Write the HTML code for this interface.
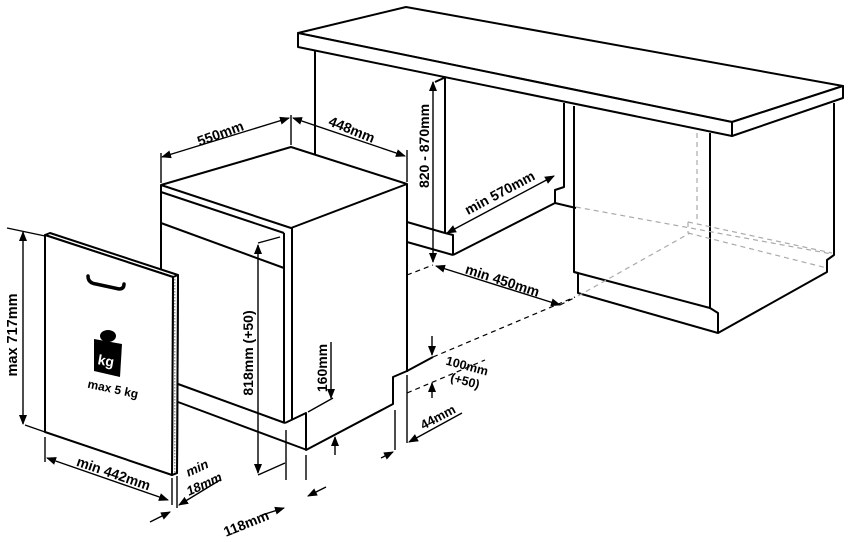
<!DOCTYPE html>
<html><head><meta charset="utf-8"><style>
html,body{margin:0;padding:0;background:#fff;}
svg{display:block;}
text{font-family:"Liberation Sans",Arial,sans-serif;font-weight:bold;fill:#000;}
</style></head><body>
<svg width="850" height="542" viewBox="0 0 850 542" xmlns="http://www.w3.org/2000/svg">
<defs>
<marker id="a" viewBox="0 0 10 10" refX="9" refY="5" markerWidth="10" markerHeight="10" orient="auto-start-reverse" markerUnits="userSpaceOnUse"><path d="M0,1 L10,5 L0,9 z" fill="#000"/></marker>
<pattern id="dots" width="3" height="3" patternUnits="userSpaceOnUse"><rect width="3" height="3" fill="#fff"/><rect width="1.5" height="1.5" fill="#999"/></pattern>
</defs>
<g fill="none" stroke="#000" stroke-width="2" stroke-linejoin="round">
<polygon points="298,33 406,7 843,86 732,122" fill="#fff"/>
<polygon points="298,33 732,122 732,136 298,47" fill="#fff"/>
<polygon points="732,122 843,86 843,98 732,136" fill="#fff"/>
<line x1="315" y1="50" x2="315" y2="155"/>
<polyline points="407,222 445,233 453,235 453,255"/>
<line x1="407" y1="242" x2="453" y2="255"/>
<line x1="445" y1="78" x2="445" y2="233"/>
<line x1="435" y1="82" x2="446" y2="77"/>
<polyline points="453,255 555,203 555,190 564,187 564,103"/>
<line x1="555" y1="203" x2="576" y2="208"/>
<polyline points="574,106 574,272 578,273 578,293 718,333 718,313 710,308 710,133"/>
<line x1="574" y1="272" x2="710" y2="308"/>
<polyline points="718,333 827,272 827,260 834,255 834,103"/>
</g>
<g fill="none" stroke="#aaa" stroke-width="1.2" stroke-dasharray="5,4">
<line x1="576" y1="207" x2="832" y2="254"/>
<line x1="697" y1="133" x2="697" y2="222"/>
<line x1="688" y1="222" x2="832" y2="253"/>
<line x1="688" y1="222" x2="688" y2="233"/>
<line x1="688" y1="233" x2="827" y2="268"/>
<line x1="578" y1="296" x2="690" y2="233"/>
</g>
<g fill="none" stroke="#000" stroke-width="1.2" stroke-dasharray="5,4">
<line x1="407" y1="275" x2="433" y2="265"/>
<line x1="560" y1="305" x2="576" y2="297"/>
<line x1="433" y1="357" x2="575" y2="297"/>
<line x1="407" y1="393" x2="485" y2="360"/>
</g>
<g fill="none" stroke="#000" stroke-width="2" stroke-linejoin="round">
<polygon points="161,185 291,147 407,184 291,228" fill="#fff"/>
<line x1="161" y1="192" x2="284" y2="233"/>
<line x1="161" y1="223" x2="284" y2="268"/>
<line x1="161" y1="185" x2="161" y2="383"/>
<line x1="284" y1="233" x2="284" y2="423"/>
<line x1="292" y1="228" x2="292" y2="420"/>
<line x1="407" y1="184" x2="407" y2="372"/>
<line x1="178" y1="384" x2="285" y2="423"/>
<line x1="178" y1="402" x2="307" y2="450"/>
<polyline points="285,423 306,413 306,450 393,404 393,377 407,371 433,357"/>
<polygon points="45,235 50,233 178,275 177,473 172,475 173,277" fill="#fff"/>
<polygon points="173,277 178,275 177,473 172,475" fill="url(#dots)"/>
<polygon points="45,235 173,277 172,475 45,432" fill="#fff"/>
</g>
<path d="M88,276 Q88,283 96,284 L119,289 Q124,289 124,284" fill="none" stroke="#000" stroke-width="3.5" stroke-linecap="round"/>
<ellipse cx="108" cy="336" rx="8" ry="6" fill="#000"/>
<polygon points="94,339 122,344 120,377 94,371" fill="#000"/>
<text x="98" y="366" font-size="14" style="fill:#fff" transform="rotate(10 108 360)">kg</text>
<text x="113" y="393" font-size="12" text-anchor="middle" transform="rotate(12 113 389)">max 5 kg</text>
<g fill="none" stroke="#000" stroke-width="1.4">
<line x1="7" y1="228" x2="45" y2="236"/>
<line x1="25" y1="425" x2="45" y2="432"/>
<line x1="23" y1="232" x2="23" y2="424" marker-start="url(#a)" marker-end="url(#a)"/>
<line x1="45" y1="437" x2="45" y2="462"/>
<line x1="172" y1="478" x2="172" y2="505"/>
<line x1="47" y1="458" x2="168" y2="500" marker-start="url(#a)" marker-end="url(#a)"/>
<line x1="177" y1="476" x2="177" y2="508"/>
<line x1="150" y1="522" x2="170" y2="512" marker-end="url(#a)"/>
<line x1="220" y1="480" x2="179" y2="505" marker-end="url(#a)"/>
<line x1="286" y1="430" x2="286" y2="480"/>
<line x1="306" y1="455" x2="306" y2="480"/>
<line x1="262" y1="515" x2="284" y2="508" marker-end="url(#a)"/>
<line x1="326" y1="487" x2="308" y2="496" marker-end="url(#a)"/>
<line x1="258" y1="243" x2="280" y2="237"/>
<line x1="258" y1="475" x2="285" y2="463"/>
<line x1="258" y1="245" x2="258" y2="473" marker-start="url(#a)" marker-end="url(#a)"/>
<line x1="308" y1="412" x2="333" y2="398"/>
<line x1="331" y1="342" x2="331" y2="398" marker-end="url(#a)"/>
<line x1="335" y1="455" x2="335" y2="437" marker-end="url(#a)"/>
<line x1="395" y1="410" x2="395" y2="450"/>
<line x1="407" y1="375" x2="407" y2="443"/>
<line x1="381" y1="458" x2="393" y2="452" marker-end="url(#a)"/>
<line x1="462" y1="413" x2="409" y2="442" marker-end="url(#a)"/>
<line x1="432" y1="336" x2="432" y2="355" marker-end="url(#a)"/>
<line x1="432" y1="398" x2="432" y2="383" marker-end="url(#a)"/>
<line x1="161" y1="153" x2="161" y2="183"/>
<line x1="291" y1="115" x2="291" y2="145"/>
<line x1="407" y1="150" x2="407" y2="182"/>
<line x1="162" y1="157" x2="289" y2="118" marker-start="url(#a)" marker-end="url(#a)"/>
<line x1="293" y1="118" x2="405" y2="156" marker-start="url(#a)" marker-end="url(#a)"/>
<line x1="433" y1="82" x2="433" y2="262" marker-start="url(#a)" marker-end="url(#a)"/>
<line x1="436" y1="266" x2="560" y2="305" marker-start="url(#a)" marker-end="url(#a)"/>
<line x1="447" y1="233" x2="554" y2="176" marker-start="url(#a)" marker-end="url(#a)"/>
</g>
<text font-size="14.5" text-anchor="middle" transform="translate(17 335) rotate(-90)">max 717mm</text>
<text font-size="14" text-anchor="middle" transform="translate(112 478) rotate(19)">min 442mm</text>
<text font-size="13" font-style="italic" text-anchor="middle" transform="translate(199 472) rotate(-25)">min</text>
<text font-size="13" font-style="italic" text-anchor="middle" transform="translate(206 488) rotate(-25)">18mm</text>
<text font-size="14" text-anchor="middle" transform="translate(248 528) rotate(-22)">118mm</text>
<text font-size="14" text-anchor="middle" transform="translate(253 353) rotate(-90)">818mm  (+50)</text>
<text font-size="14" text-anchor="middle" transform="translate(327 368) rotate(-90)">160mm</text>
<text font-size="12.5" text-anchor="middle" transform="translate(466 370) rotate(15)">100mm</text>
<text font-size="12.5" text-anchor="middle" transform="translate(464 385) rotate(15)">(+50)</text>
<text font-size="13" text-anchor="middle" transform="translate(440 421) rotate(-28)">44mm</text>
<text font-size="14" text-anchor="middle" transform="translate(222 138) rotate(-20)">550mm</text>
<text font-size="14" text-anchor="middle" transform="translate(350 134) rotate(22)">448mm</text>
<text font-size="14" text-anchor="middle" transform="translate(429 146) rotate(-90)">820 - 870mm</text>
<text font-size="14" text-anchor="middle" transform="translate(502 197) rotate(-28)">min 570mm</text>
<text font-size="14" text-anchor="middle" transform="translate(501 285) rotate(18)">min 450mm</text>
</svg>
</body></html>
